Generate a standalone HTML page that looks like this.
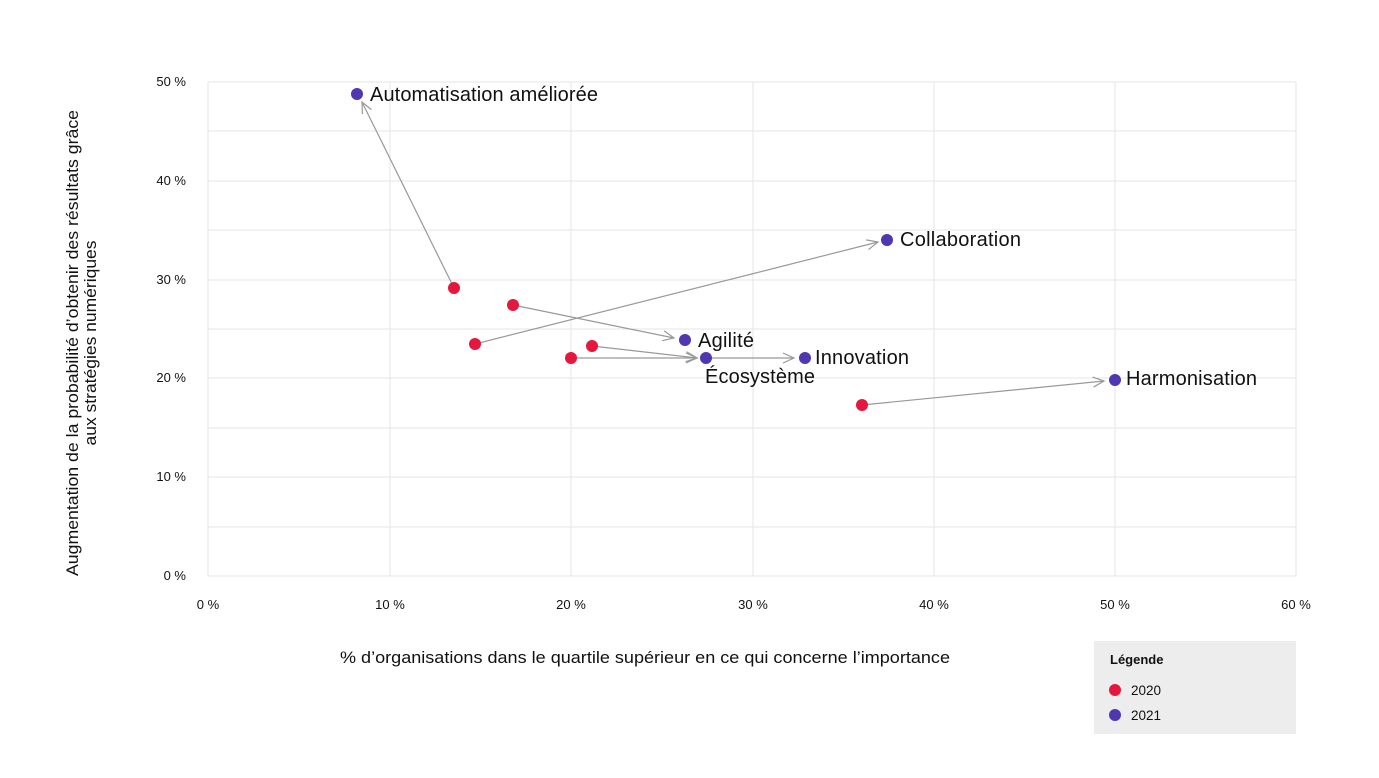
<!DOCTYPE html>
<html><head><meta charset="utf-8"><style>
body{margin:0;background:#fff;}
svg{display:block;font-family:"Liberation Sans",sans-serif;}
</style></head><body>
<svg width="1379" height="778" viewBox="0 0 1379 778">
<defs>
<marker id="a" markerWidth="14" markerHeight="12" refX="12" refY="6" orient="auto" markerUnits="userSpaceOnUse">
<path d="M1,1 L12,6 L1,11" fill="none" stroke="#999" stroke-width="1.2"/>
</marker>
</defs>
<g stroke="#e6e6e6" stroke-width="1">
<line x1="208" y1="82" x2="1296" y2="82"/>
<line x1="208" y1="131" x2="1296" y2="131"/>
<line x1="208" y1="181" x2="1296" y2="181"/>
<line x1="208" y1="230" x2="1296" y2="230"/>
<line x1="208" y1="280" x2="1296" y2="280"/>
<line x1="208" y1="329" x2="1296" y2="329"/>
<line x1="208" y1="378" x2="1296" y2="378"/>
<line x1="208" y1="428" x2="1296" y2="428"/>
<line x1="208" y1="477" x2="1296" y2="477"/>
<line x1="208" y1="527" x2="1296" y2="527"/>
<line x1="208" y1="576" x2="1296" y2="576"/>
<line x1="208" y1="82" x2="208" y2="576"/>
<line x1="390" y1="82" x2="390" y2="576"/>
<line x1="571" y1="82" x2="571" y2="576"/>
<line x1="753" y1="82" x2="753" y2="576"/>
<line x1="934" y1="82" x2="934" y2="576"/>
<line x1="1115" y1="82" x2="1115" y2="576"/>
<line x1="1296" y1="82" x2="1296" y2="576"/>
</g>
<g font-size="13" fill="#111" text-anchor="end">
<text x="186" y="86">50 %</text><text x="186" y="185">40 %</text><text x="186" y="284">30 %</text>
<text x="186" y="382">20 %</text><text x="186" y="481">10 %</text><text x="186" y="580">0 %</text>
</g>
<g font-size="13" fill="#111" text-anchor="middle">
<text x="208" y="609">0 %</text><text x="390" y="609">10 %</text><text x="571" y="609">20 %</text>
<text x="753" y="609">30 %</text><text x="934" y="609">40 %</text><text x="1115" y="609">50 %</text><text x="1296" y="609">60 %</text>
</g>
<text x="340" y="663" font-size="17" fill="#111" textLength="610" lengthAdjust="spacingAndGlyphs">% d’organisations dans le quartile supérieur en ce qui concerne l’importance</text>
<g transform="translate(78,343) rotate(-90)" font-size="17" fill="#111" text-anchor="middle">
<text x="0" y="0" textLength="466" lengthAdjust="spacingAndGlyphs">Augmentation de la probabilité d’obtenir des résultats grâce</text>
<text x="0" y="18" textLength="205" lengthAdjust="spacingAndGlyphs">aux stratégies numériques</text>
</g>
<g stroke="#999" stroke-width="1.2" fill="none" marker-end="url(#a)">
<line x1="454" y1="288" x2="362" y2="102"/>
<line x1="475" y1="344" x2="878" y2="242"/>
<line x1="513" y1="305" x2="674" y2="338"/>
<line x1="592" y1="346" x2="697" y2="358"/>
<line x1="571" y1="358" x2="697" y2="358"/>
<line x1="706" y1="358" x2="794" y2="358"/>
<line x1="862" y1="405" x2="1104" y2="381"/>
</g>
<g fill="#e4173e">
<circle cx="454" cy="288" r="6"/><circle cx="475" cy="344" r="6"/><circle cx="513" cy="305" r="6"/>
<circle cx="592" cy="346" r="6"/><circle cx="571" cy="358" r="6"/><circle cx="862" cy="405" r="6"/>
</g>
<g fill="#5036b0">
<circle cx="357" cy="94" r="6"/><circle cx="887" cy="240" r="6"/><circle cx="685" cy="340" r="6"/>
<circle cx="706" cy="358" r="6"/><circle cx="805" cy="358" r="6"/><circle cx="1115" cy="380" r="6"/>
</g>
<g font-size="20" fill="#111" lengthAdjust="spacingAndGlyphs">
<text x="370" y="101" textLength="228">Automatisation améliorée</text>
<text x="900" y="246" textLength="121">Collaboration</text>
<text x="698" y="347" textLength="56">Agilité</text>
<text x="815" y="364" textLength="94">Innovation</text>
<text x="705" y="383" textLength="110">Écosystème</text>
<text x="1126" y="385" textLength="131">Harmonisation</text>
</g>
<rect x="1094" y="641" width="202" height="93" fill="#ededed"/>
<text x="1110" y="664" font-size="13" font-weight="bold" fill="#111">Légende</text>
<circle cx="1115" cy="690" r="6" fill="#e4173e"/>
<text x="1131" y="695" font-size="13.5" fill="#111">2020</text>
<circle cx="1115" cy="715" r="6" fill="#5036b0"/>
<text x="1131" y="720" font-size="13.5" fill="#111">2021</text>
</svg>
</body></html>
